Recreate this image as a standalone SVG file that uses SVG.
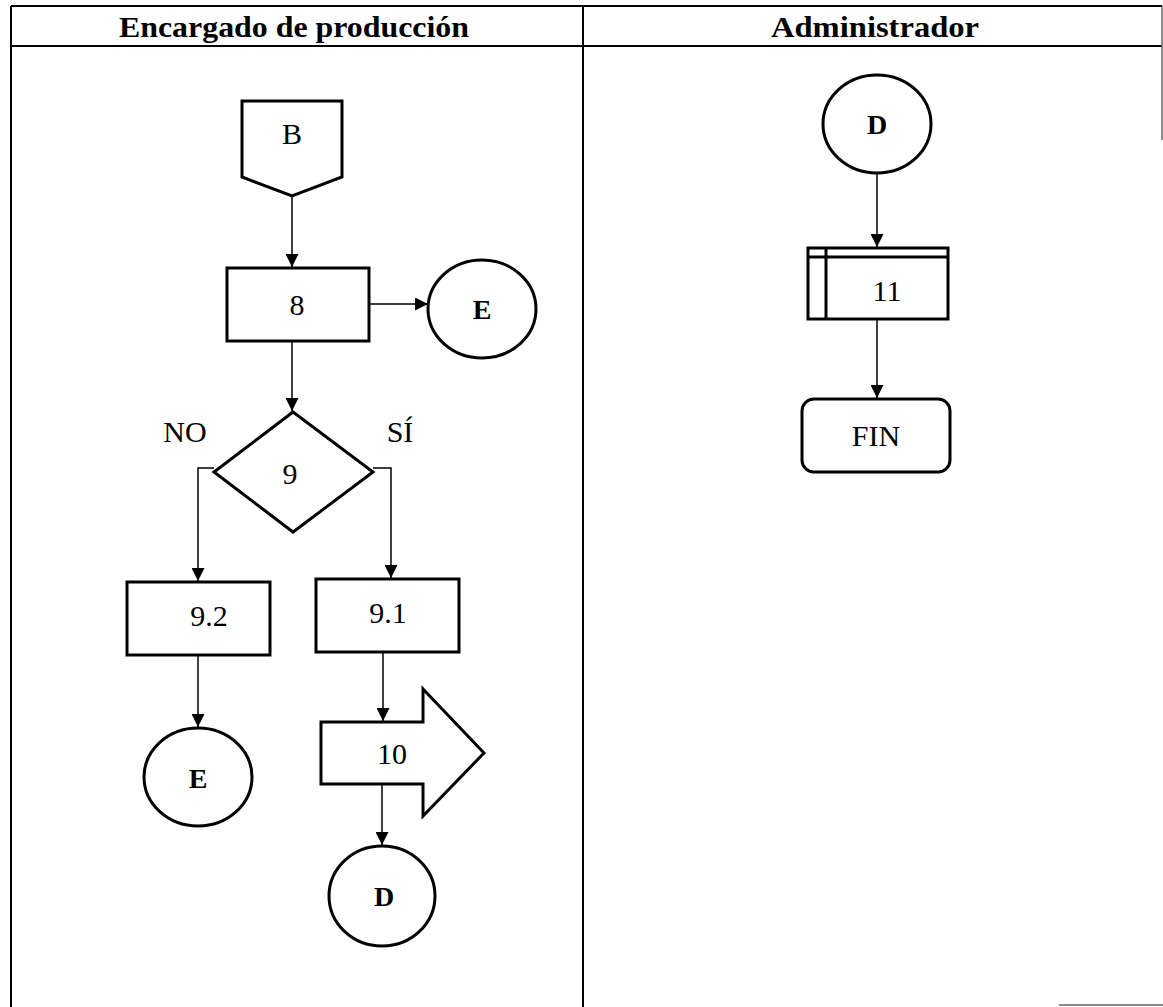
<svg xmlns="http://www.w3.org/2000/svg" width="1163" height="1007" viewBox="0 0 1163 1007">
<style>
.tbl{stroke:#000;stroke-width:2;fill:none}
.shape{stroke:#000;stroke-width:3;fill:#fff}
.conn{stroke:#000;stroke-width:1.5;fill:none}
.hdr{font-family:"Liberation Serif","Times New Roman",serif;font-weight:bold;font-size:30px;text-anchor:middle}
.lbl{font-family:"Liberation Serif","Times New Roman",serif;font-size:30px;text-anchor:middle}
.lblb{font-family:"Liberation Serif","Times New Roman",serif;font-size:28px;font-weight:bold;text-anchor:middle}
</style>
<defs>
<marker id="ah" viewBox="0 0 10 10" refX="10" refY="5" markerWidth="13" markerHeight="13" markerUnits="userSpaceOnUse" orient="auto">
<path d="M0,0 L10,5 L0,10 Z" fill="#000"/>
</marker>
</defs>
<rect width="1163" height="1007" fill="#fff"/>
<g id="table">
<line class="tbl" x1="11" y1="6" x2="1162" y2="6"/>
<line class="tbl" x1="11" y1="46" x2="1162" y2="46"/>
<line class="tbl" x1="11" y1="6" x2="11" y2="1007"/>
<line class="tbl" x1="583" y1="6" x2="583" y2="1007"/>
<line x1="1162" y1="6" x2="1162" y2="140" stroke="#666" stroke-width="1.5"/>
<line x1="1059" y1="1005" x2="1163" y2="1005" stroke="#888" stroke-width="2"/>
<text class="hdr" x="294" y="37" textLength="350" lengthAdjust="spacingAndGlyphs">Encargado de producción</text>
<text class="hdr" x="875" y="37" textLength="208" lengthAdjust="spacingAndGlyphs">Administrador</text>
</g>
<g id="connectors">
<line class="conn" x1="292" y1="196" x2="292" y2="267" marker-end="url(#ah)"/>
<line class="conn" x1="369" y1="304" x2="428" y2="304" marker-end="url(#ah)"/>
<line class="conn" x1="292" y1="341" x2="292" y2="411" marker-end="url(#ah)"/>
<polyline class="conn" points="214,468 198,468 198,581" marker-end="url(#ah)"/>
<polyline class="conn" points="373,468 391,468 391,578" marker-end="url(#ah)"/>
<line class="conn" x1="198" y1="655" x2="198" y2="727" marker-end="url(#ah)"/>
<line class="conn" x1="383" y1="652" x2="383" y2="721" marker-end="url(#ah)"/>
<line class="conn" x1="382" y1="784" x2="382" y2="845" marker-end="url(#ah)"/>
<line class="conn" x1="877" y1="173" x2="877" y2="247" marker-end="url(#ah)"/>
<line class="conn" x1="877" y1="319" x2="877" y2="398" marker-end="url(#ah)"/>
</g>
<g id="node-B">
<polygon class="shape" points="242,101 342,101 342,177 292,196 242,177"/>
<text class="lbl" x="292" y="144">B</text>
</g>
<g id="node-8">
<rect class="shape" x="227" y="268" width="142" height="73"/>
<text class="lbl" x="297" y="315">8</text>
</g>
<g id="node-E1">
<ellipse class="shape" cx="482" cy="309" rx="54" ry="49"/>
<text class="lblb" x="482" y="319">E</text>
</g>
<g id="node-9">
<polygon class="shape" points="293,412 373,472 293,532 214,472"/>
<text class="lbl" x="290" y="484">9</text>
</g>
<g id="label-NO">
<text class="lbl" x="185" y="442" font-size="26">NO</text>
</g>
<g id="label-SI">
<text class="lbl" x="400" y="442" font-size="26">SÍ</text>
</g>
<g id="node-9-2">
<rect class="shape" x="127" y="582" width="143" height="73"/>
<text class="lbl" x="209" y="626">9.2</text>
</g>
<g id="node-9-1">
<rect class="shape" x="316" y="579" width="143" height="73"/>
<text class="lbl" x="388" y="623">9.1</text>
</g>
<g id="node-E2">
<ellipse class="shape" cx="198" cy="777" rx="54" ry="49"/>
<text class="lblb" x="198" y="788">E</text>
</g>
<g id="node-10">
<polygon class="shape" points="321,722 423,722 423,689 484,753 423,816 423,784 321,784"/>
<text class="lbl" x="392" y="764">10</text>
</g>
<g id="node-D1">
<ellipse class="shape" cx="382" cy="896" rx="53" ry="50"/>
<text class="lblb" x="384" y="906">D</text>
</g>
<g id="node-D2">
<ellipse class="shape" cx="877" cy="124" rx="54" ry="49"/>
<text class="lblb" x="877" y="134">D</text>
</g>
<g id="node-11">
<rect class="shape" x="808" y="248" width="140" height="71"/>
<line x1="808" y1="257" x2="948" y2="257" stroke="#000" stroke-width="3"/>
<line x1="826" y1="248" x2="826" y2="319" stroke="#000" stroke-width="3"/>
<text class="lbl" x="887" y="301">11</text>
</g>
<g id="node-FIN">
<rect class="shape" x="802" y="399" width="148" height="73" rx="12" ry="12"/>
<text class="lbl" x="876" y="446">FIN</text>
</g>
</svg>
